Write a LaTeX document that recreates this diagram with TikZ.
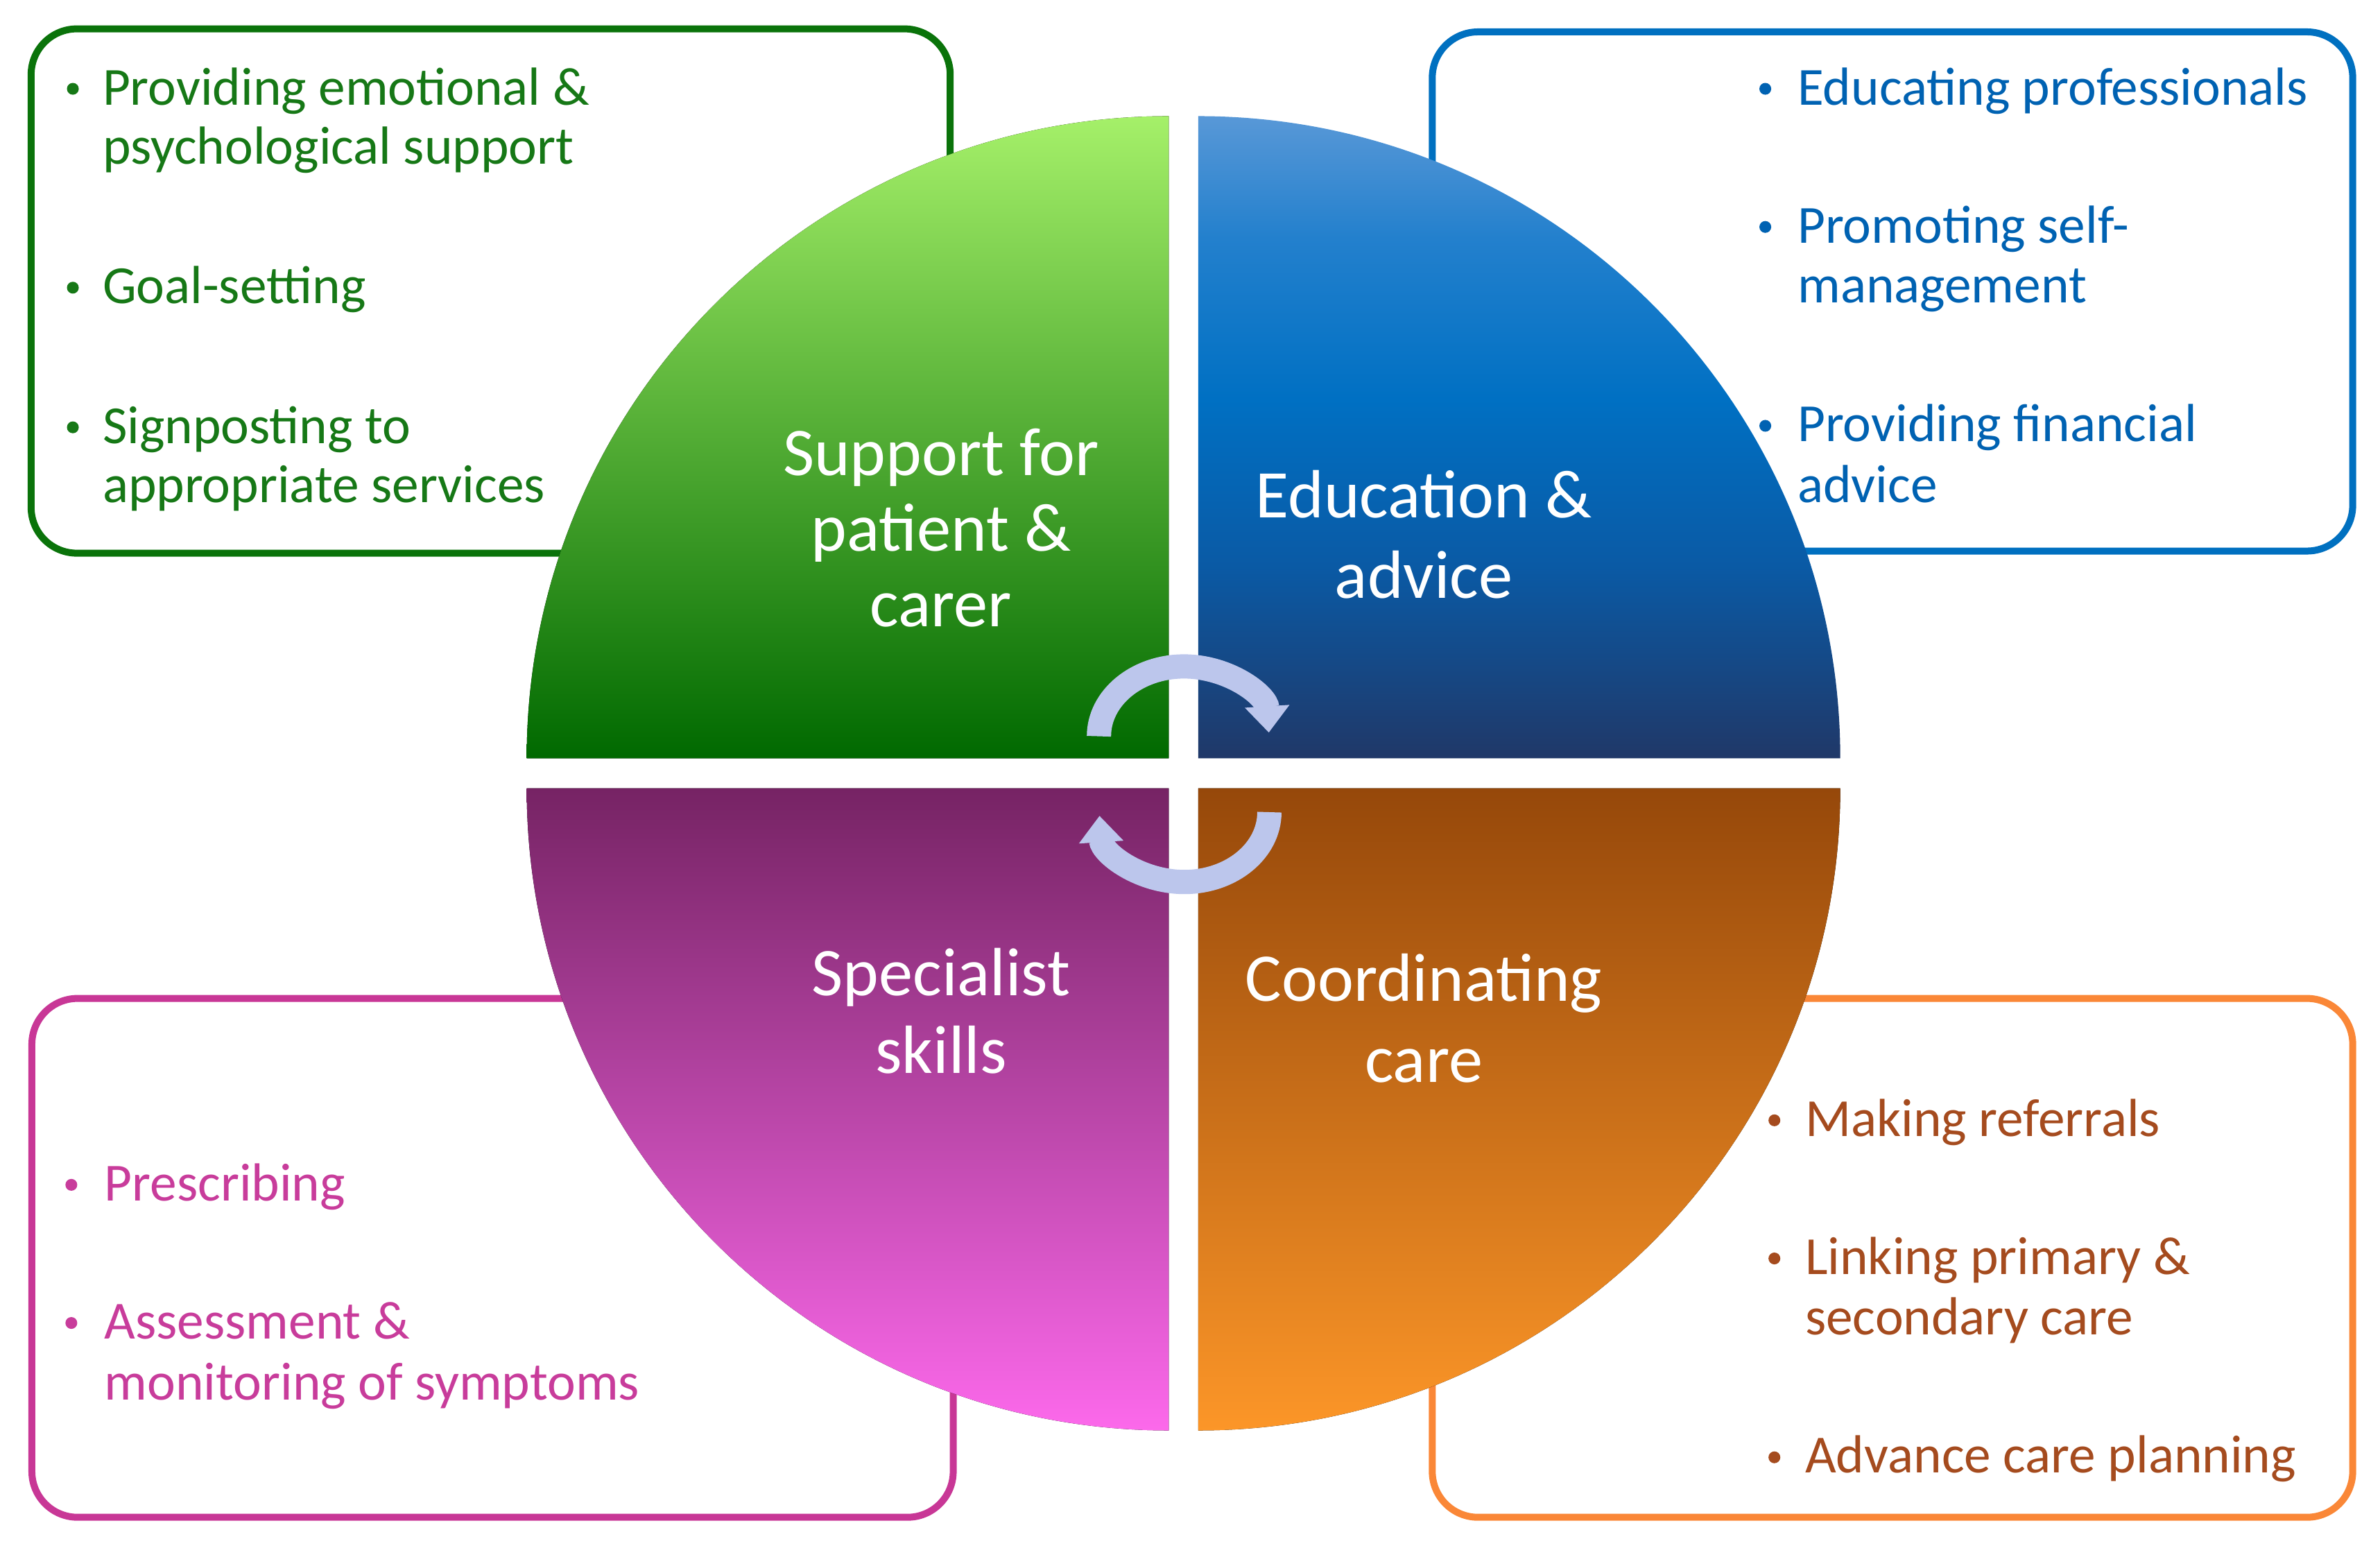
\documentclass[tikz,border=0pt]{standalone}
\usepackage{fontspec}
\setmainfont{Carlito}
\usetikzlibrary{arrows.meta}
\definecolor{gbox}{RGB}{10,115,10}
\definecolor{bbox}{RGB}{0,112,192}
\definecolor{pbox}{RGB}{200,55,150}
\definecolor{obox}{RGB}{250,135,55}
\definecolor{gtext}{RGB}{22,120,22}
\definecolor{btext}{RGB}{0,98,178}
\definecolor{ptext}{RGB}{200,60,155}
\definecolor{otext}{RGB}{165,75,30}
\definecolor{arrowc}{RGB}{188,198,236}
\definecolor{bq0}{RGB}{32,56,104}
\definecolor{bq1}{RGB}{10,90,165}
\definecolor{bq2}{RGB}{0,112,195}
\definecolor{bq3}{RGB}{35,128,205}
\definecolor{bq4}{RGB}{88,152,215}
\pgfdeclareverticalshading{blueq}{100bp}{color(0bp)=(bq0); color(25bp)=(bq0); color(40bp)=(bq1); color(53bp)=(bq2); color(65.5bp)=(bq3); color(75bp)=(bq4); color(100bp)=(bq4)}
\begin{document}
\begin{tikzpicture}[x=0.2189mm,y=-0.2189mm,
  itembox/.style={line width=1mm, rounded corners=6.6mm, fill=white},
  itemtext/.style={anchor=base west, inner sep=0pt, font=\fontsize{22}{26}\selectfont},
  qlabel/.style={anchor=base, inner sep=0pt, text=white, font=\fontsize{28}{32}\selectfont},
  cyc/.style={draw=arrowc, line width=3.5mm, -{Triangle[width=6.2mm,length=3.8mm]}},
  dotg/.style={radius=3.9}]
\useasboundingbox (0,0) rectangle (1568,1019.6);
% boxes
\draw[itembox, draw=gbox] (20.5,19) rectangle (626,364.4);
\draw[itembox, draw=bbox] (943.6,21) rectangle (1550,363);
\draw[itembox, draw=pbox] (21,657.7) rectangle (628,999.5);
\draw[itembox, draw=obox] (943.6,657.7) rectangle (1550,999.5);
% quadrants
\fill[top color={rgb,255:red,165;green,240;blue,105}, bottom color={rgb,255:red,0;green,105;blue,0}]
  (770,499.5) -- (347,499.5) arc[start angle=180, end angle=270, radius=423] -- cycle;
\shade[shading=blueq]
  (789.4,499.5) -- (1212.4,499.5) arc[start angle=0, end angle=-90, radius=423] -- cycle;
\fill[top color={rgb,255:red,118;green,35;blue,100}, bottom color={rgb,255:red,252;green,105;blue,235}]
  (770,519.3) -- (347,519.3) arc[start angle=180, end angle=90, radius=423] -- cycle;
\fill[top color={rgb,255:red,150;green,72;blue,10}, bottom color={rgb,255:red,252;green,150;blue,40}]
  (789.4,519.3) -- (1212.4,519.3) arc[start angle=0, end angle=90, radius=423] -- cycle;
% cycle arrows
\coordinate (a1) at (724,485);
\coordinate (a2) at (836.3,535);
\draw[cyc] (a1) arc[start angle=180, end angle=357, x radius=56, y radius=46];
\draw[cyc] (a2) arc[start angle=0, end angle=177, x radius=56, y radius=46];
% quadrant labels
\node[qlabel] (q1a) at (620,313) {Support for};
\node[qlabel] (q1b) at (620,363) {patient \&};
\node[qlabel] (q1c) at (620,413) {carer};
\node[qlabel] (q2a) at (938,341) {Education \&};
\node[qlabel] (q2b) at (938,394) {advice};
\node[qlabel] (q3a) at (620,656) {Specialist};
\node[qlabel] (q3b) at (620,707) {skills};
\node[qlabel] (q4a) at (938,659.5) {Coordinating};
\node[qlabel] (q4b) at (938,713) {care};
% green items
\fill[gtext] (48,58.5) circle[dotg];
\fill[gtext] (48,189.5) circle[dotg];
\fill[gtext] (48,281.5) circle[dotg];
\node[itemtext, text=gtext] (g1) at (67.3,69) {Providing emotional \&};
\node[itemtext, text=gtext] (g2) at (67.3,108) {psychological support};
\node[itemtext, text=gtext] (g3) at (67.3,200) {Goal-setting};
\node[itemtext, text=gtext] (g4) at (67.3,292) {Signposting to};
\node[itemtext, text=gtext] (g5) at (67.3,331) {appropriate services};
% blue items
\fill[btext] (1163,58.5) circle[dotg];
\fill[btext] (1163,149.5) circle[dotg];
\fill[btext] (1163,280.5) circle[dotg];
\node[itemtext, text=btext] (b1) at (1184,69) {Educating professionals};
\node[itemtext, text=btext] (b2) at (1184,160) {Promoting self-};
\node[itemtext, text=btext] (b3) at (1184,199.5) {management};
\node[itemtext, text=btext] (b4) at (1184,291) {Providing financial};
\node[itemtext, text=btext] (b5) at (1184,331) {advice};
% pink items
\fill[ptext] (47,780.5) circle[dotg];
\fill[ptext] (47,871.5) circle[dotg];
\node[itemtext, text=ptext] (p1) at (68.5,791) {Prescribing};
\node[itemtext, text=ptext] (p2) at (68.5,882) {Assessment \&};
\node[itemtext, text=ptext] (p3) at (68.5,922) {monitoring of symptoms};
% orange items
\fill[otext] (1169,738) circle[dotg];
\fill[otext] (1169,829) circle[dotg];
\fill[otext] (1169,960) circle[dotg];
\node[itemtext, text=otext] (o1) at (1189,748.6) {Making referrals};
\node[itemtext, text=otext] (o2) at (1189,839.5) {Linking primary \&};
\node[itemtext, text=otext] (o3) at (1189,879.4) {secondary care};
\node[itemtext, text=otext] (o4) at (1189,970.3) {Advance care planning};
\end{tikzpicture}
\end{document}
